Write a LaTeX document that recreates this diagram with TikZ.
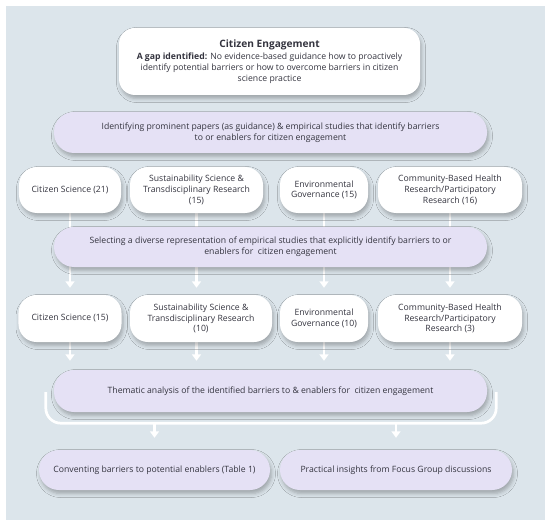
\documentclass[tikz,border=0pt]{standalone}
\usepackage{fontspec}
\setmainfont{Open Sans}
\usetikzlibrary{arrows.meta,shadows.blur,calc}
\definecolor{panel}{HTML}{DCE5EB}
\definecolor{lav}{HTML}{E5E1F5}
\definecolor{ink}{HTML}{34343F}
\pgfdeclarelayer{bg}
\pgfsetlayers{bg,main}
\begin{document}
\begin{tikzpicture}[x=1bp,y=-1bp,
 box/.style={draw=none, align=center, inner sep=0pt, text=ink,
   font=\fontsize{8.7}{10.8}\selectfont,
   blur shadow={shadow xshift=1.5bp, shadow yshift=-3.5bp, shadow blur radius=4bp, shadow opacity=28}},
 wbox/.style={box, fill=white, rounded corners=18bp, minimum height=46bp},
 pill/.style={box, fill=lav, rounded corners=20bp, minimum width=433bp},
 link/.style={white, line width=2.7bp},
 arr/.style={link, -{Triangle[width=9bp,length=6.5bp]}}
]
\useasboundingbox (0,0) rectangle (550,528);

\node[wbox, rounded corners=16bp, minimum width=301bp, minimum height=67bp] (top) at (269.5,61.5)
 {{\fontsize{10.2}{13}\selectfont\bfseries Citizen Engagement}\\[2bp]
  \textbf{A gap identified:} No evidence-based guidance how to proactively\\
  identify potential barriers or how to overcome barriers in citizen\\
  science practice};

\node[pill, minimum height=41bp] (b2) at (270.5,132.5)
 {Identifying prominent papers (as guidance) \& empirical studies that identify barriers\\
  to or enablers for citizen engagement};

\node[wbox, minimum width=102bp] (cs1) at (70,190) {Citizen Science (21)};
\node[wbox, minimum width=133bp] (su1) at (196.5,190) {Sustainability Science \&\\Transdisciplinary Research\\(15)};
\node[wbox, minimum width=88bp] (en1) at (324,190) {Environmental\\Governance (15)};
\node[wbox, minimum width=144bp] (co1) at (450,190) {Community-Based Health\\Research/Participatory\\Research (16)};

\node[pill, minimum height=40bp] (b3) at (270.5,247)
 {Selecting a diverse representation of empirical studies that explicitly identify barriers to or\\
  enablers for\ \ citizen engagement};

\node[wbox, minimum width=103bp, minimum height=47bp] (cs2) at (70,318.5) {Citizen Science (15)};
\node[wbox, minimum width=142bp, minimum height=47bp] (su2) at (201,318.5) {Sustainability Science \&\\Transdisciplinary Research\\(10)};
\node[wbox, minimum width=88bp, minimum height=47bp] (en2) at (324,318.5) {Environmental\\Governance (10)};
\node[wbox, minimum width=144bp, minimum height=47bp] (co2) at (450,318.5) {Community-Based Health\\Research/Participatory\\Research (3)};

\node[pill, minimum height=42bp] (b4) at (270.5,391)
 {Thematic analysis of the identified barriers to \& enablers for\ \ citizen engagement};

\node[pill, minimum width=231bp, minimum height=40bp] (bl) at (154.5,470)
 {Conventing barriers to potential enablers (Table 1)};
\node[pill, minimum width=232bp, minimum height=40bp] (br) at (396,470)
 {Practical insights from Focus Group discussions};

\coordinate (brl) at ($(b4.west)+(-8,1)$);
\coordinate (brr) at ($(b4.east)+(9,1)$);
\coordinate (brb) at ($(b4.south)+(0,11)$);

\begin{pgfonlayer}{bg}
\fill[white] (0,0) rectangle (550,528);
\fill[panel] (6,6) rectangle (545,520);
\foreach \n in {cs1,su1,en1,co1}{
  \draw[link] (\n.south) -- (\n.south |- b3.center);
}
\draw[arr, shorten >=7bp] (cs1 |- b3.center) -- (cs1 |- cs2.north);
\draw[arr, shorten >=7bp] (su1 |- b3.center) -- (su1 |- su2.north);
\draw[arr, shorten >=7bp] (en1 |- b3.center) -- (en1 |- en2.north);
\draw[arr, shorten >=7bp] (co1 |- b3.center) -- (co1 |- co2.north);
\draw[arr, shorten >=9bp] (cs1 |- cs2.center) -- (cs1 |- b4.north);
\draw[arr, shorten >=9bp] (su1 |- su2.center) -- (su1 |- b4.north);
\draw[arr, shorten >=9bp] (en1 |- en2.center) -- (en1 |- b4.north);
\draw[arr, shorten >=9bp] (co1 |- co2.center) -- (co1 |- b4.north);
\draw[link, rounded corners=15bp] (brl) |- (brb) -| (brr);
\draw[arr, shorten >=12bp] (bl |- brb) -- (bl.north);
\draw[arr, shorten >=12bp] (br |- brb) -- (br.north);
\end{pgfonlayer}
\end{tikzpicture}
\end{document}
